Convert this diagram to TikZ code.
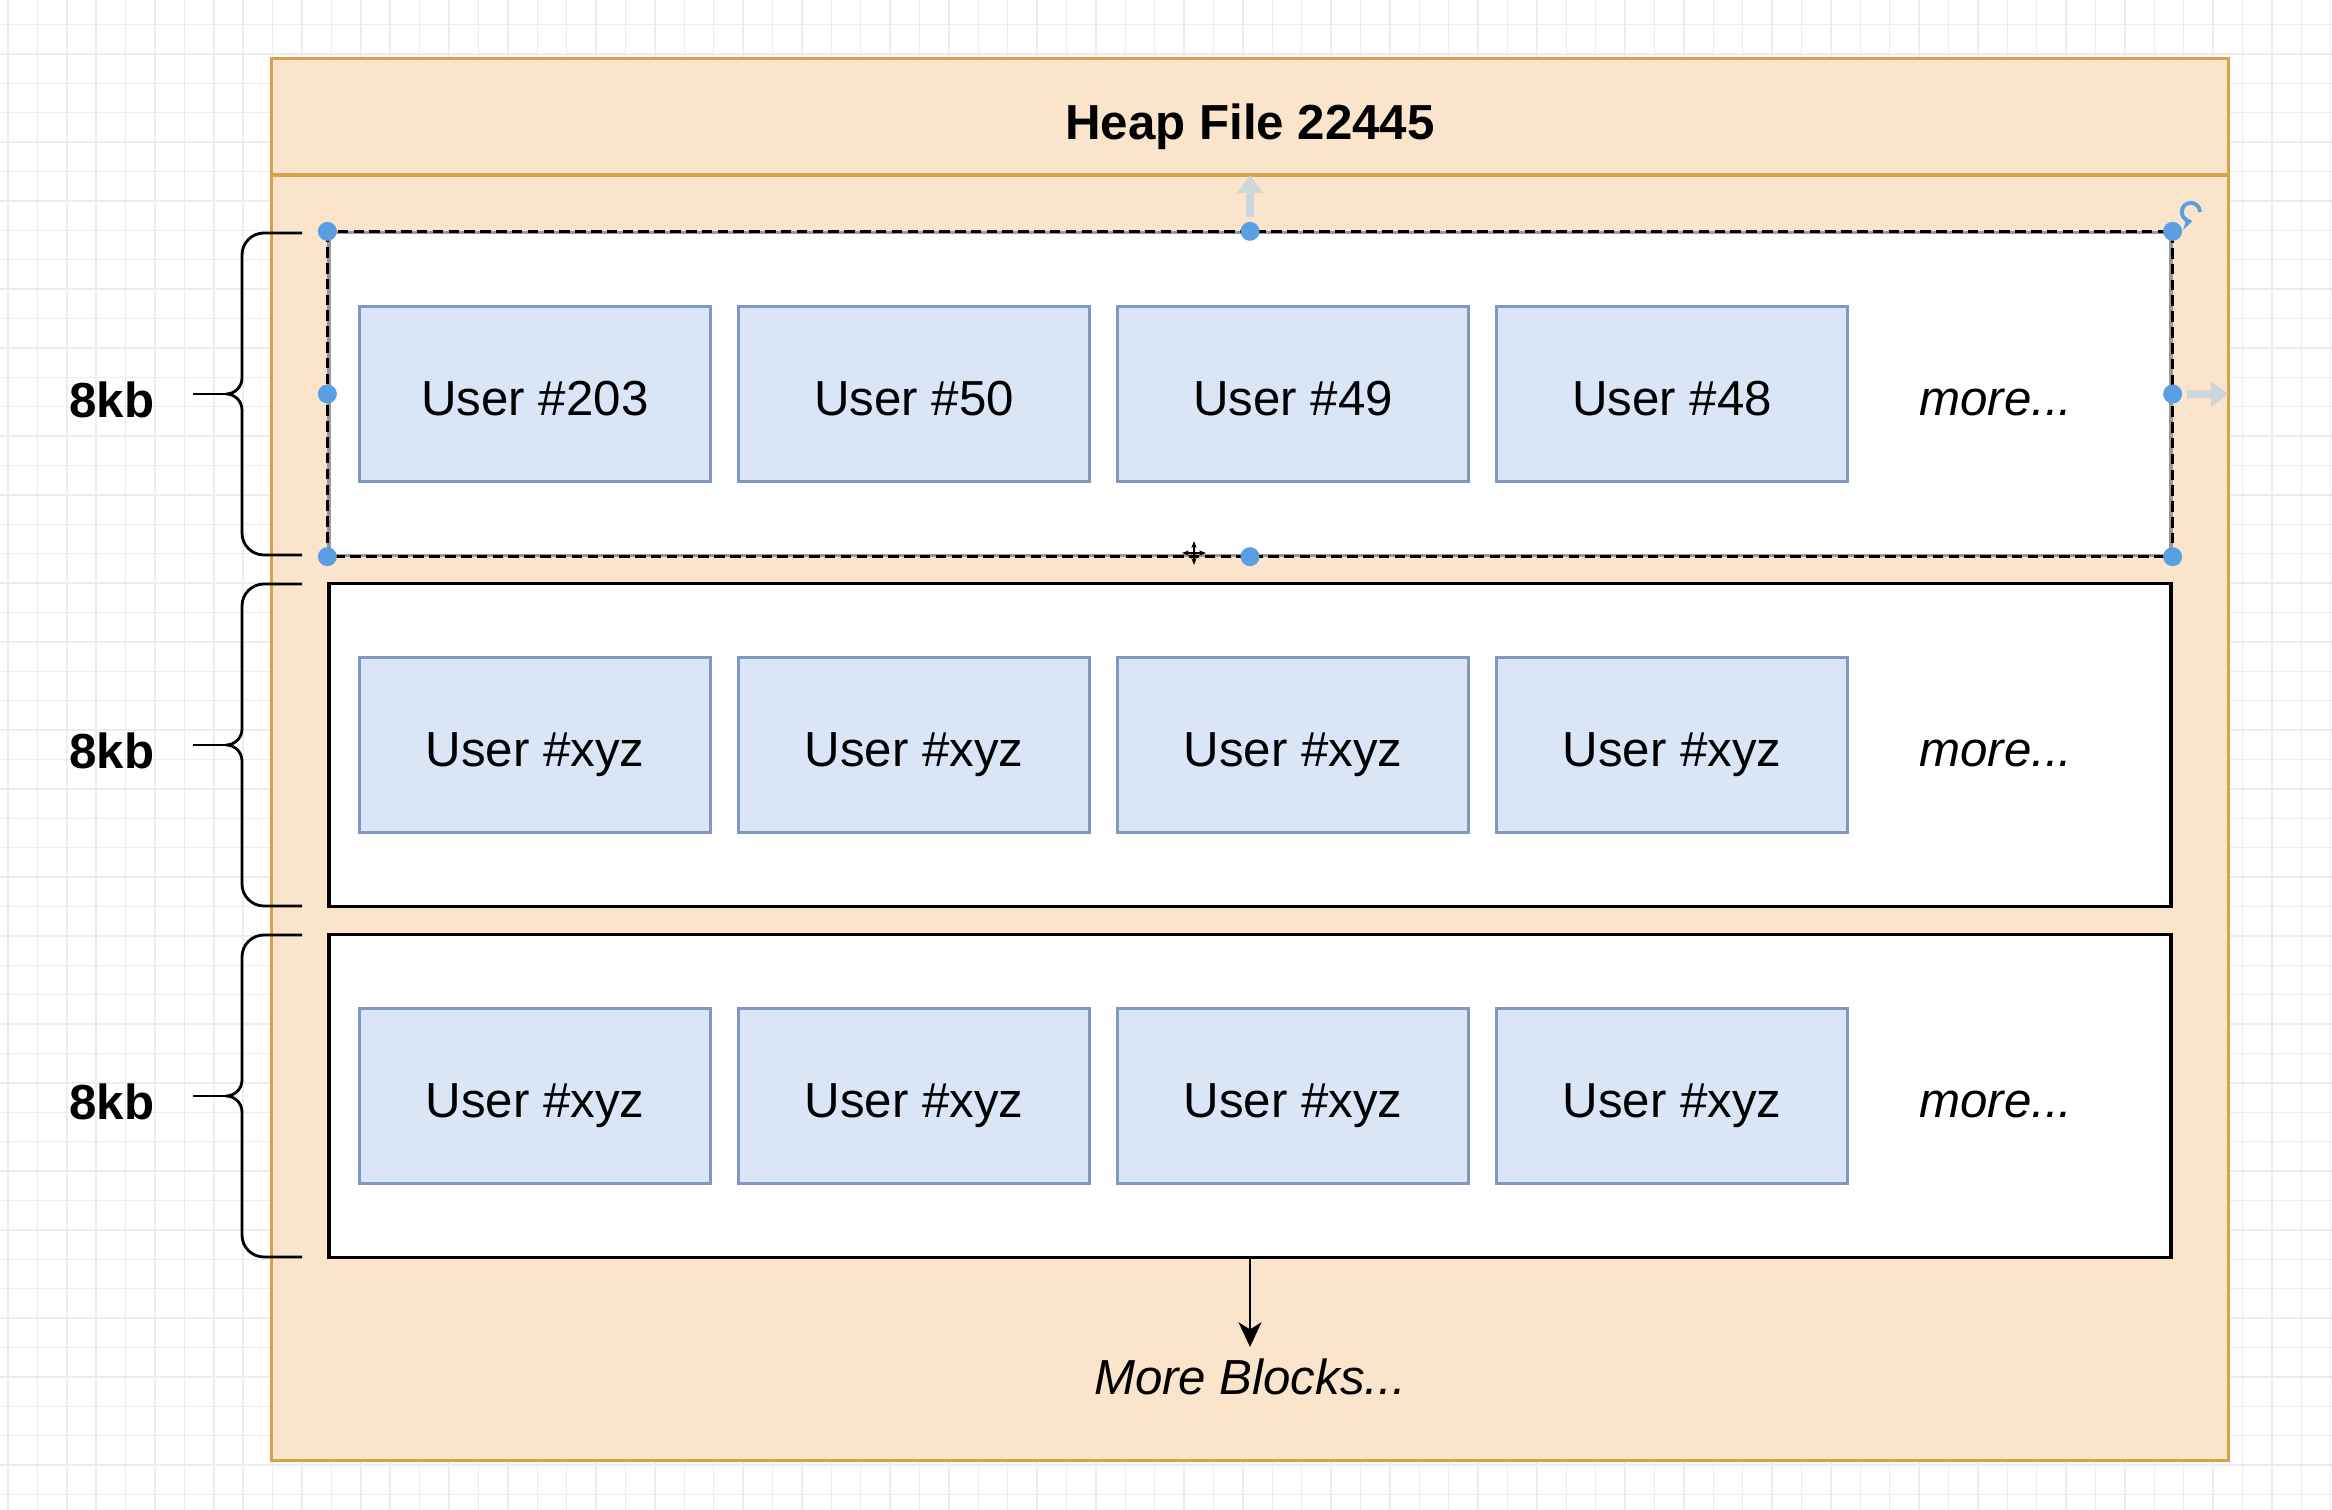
\documentclass[tikz,border=0pt]{standalone}
\usepackage{fontspec}
\setmainfont{Liberation Sans}
\usetikzlibrary{arrows.meta,calc}

\definecolor{heapfill}{HTML}{FAE5CC}
\definecolor{heapline}{HTML}{D6A24A}
\definecolor{userfill}{HTML}{DAE5F6}
\definecolor{userline}{HTML}{7F98C4}
\definecolor{handle}{HTML}{5B9FE3}
\definecolor{hint}{HTML}{CDD7DA}

\begin{document}
\begin{tikzpicture}
[
    x=0.01cm, y=-0.01cm,
    font=\fontsize{14}{17}\selectfont,
    gridline/.style={draw=black!7, line width=0.4pt},
    heap/.style={draw=heapline, fill=heapfill, line width=0.9pt, minimum width=19.56cm, minimum height=14.01cm, inner sep=0pt},
    block/.style={draw=black, fill=white, line width=0.9pt, minimum width=18.41cm, minimum height=3.22cm, inner sep=0pt},
    user/.style={draw=userline, fill=userfill, line width=0.8pt, minimum width=3.51cm, minimum height=1.75cm, inner sep=0pt, text height=12pt, text depth=0pt},
    label/.style={text height=12pt, text depth=0pt},
    bracket/.style={draw=black, line width=0.8pt},
    dot/.style={circle, fill=handle, inner sep=0pt, minimum size=0.19cm},
    hintarrow/.style={draw=hint, line width=2pt, -{Triangle[length=5pt,width=7pt]}},
    flow/.style={draw=black, line width=0.8pt, -{Stealth[length=7pt,width=6.5pt,inset=2pt]}},
]
\useasboundingbox (0,0) rectangle (2332,1510);
\fill[white] (0,0) rectangle (2332,1510);

% background grid
\foreach \gx in {8,37.4,...,2332} {\draw[gridline] (\gx,0) -- (\gx,1510);}
\foreach \gy in {24.5,53.9,...,1510} {\draw[gridline] (0,\gy) -- (2332,\gy);}

% heap file with its header
\node[heap] (heap) at (1250,759.5) {};
\coordinate (hdr) at (0,175);
\draw[heapline, line width=0.9pt] (heap.west |- hdr) -- (heap.east |- hdr);
\node[text height=10pt, text depth=0pt, font=\fontsize{14}{17}\selectfont\bfseries] (title) at (1250,122) {Heap File 22445};

% first block (selected)
\node[block, draw=black!40] (blk1) at (1250,394) {};
\draw[black, line width=0.7pt, dash pattern=on 3pt off 1.5pt] (blk1.north west) rectangle (blk1.south east);
\foreach \uid [count=\i] in {203,50,49,48}
    \node[user] (u1-\i) at ({535+379*(\i-1)},394) {User \#\uid};
\node[label, font=\fontsize{14}{17}\selectfont\itshape] (more1) at (1996,394) {more...};

% other blocks
\foreach \row/\yc in {2/745, 3/1096} {
    \node[block] (blk\row) at (1250,\yc) {};
    \foreach \i in {1,...,4}
        \node[user] (u\row-\i) at ({535+379*(\i-1)},\yc) {User \#xyz};
    \node[label, font=\fontsize{14}{17}\selectfont\itshape] (more\row) at (1996,\yc) {more...};
}

% braces and sizes
\foreach \row/\yc in {1/394, 2/745, 3/1096} {
    \draw[bracket] (302,\yc-161) -- (264,\yc-161) to[out=180,in=90] (242,\yc-139)
        -- (242,\yc-16) to[out=-90,in=0] (226,\yc) to[out=0,in=90] (242,\yc+16)
        -- (242,\yc+139) to[out=-90,in=180] (264,\yc+161) -- (302,\yc+161);
    \draw[bracket] (226,\yc) -- (193,\yc);
    \node[label, font=\fontsize{14}{17}\selectfont\bfseries] (kb\row) at (112,\yc+2) {8kb};
}

% more blocks
\node[font=\fontsize{14}{17}\selectfont\itshape, text height=10pt, text depth=0pt] (moreblk) at (1250,1377) {More Blocks...};
\draw[flow] (blk3.south) -- (moreblk.north);

% selection handles
\draw[hintarrow] ($(blk1.north)+(0,-14)$) -- ++(0,-42);
\draw[hintarrow] ($(blk1.east)+(14,0)$) -- ++(42,0);
\foreach \a [count=\k] in {north west, north, north east, west, east, south west, south, south east}
    \node[dot] (hd\k) at (blk1.\a) {};
\coordinate (rot) at (2191,212);
\draw[handle, line width=1.1pt, -{Stealth[length=3pt,width=4pt]}] ($(rot)+(9,0)$) arc[start angle=0, end angle=280, radius=2.6pt];
\coordinate (cur) at (1194,553);
\draw[black, line width=0.6pt, {Stealth[length=2pt]}-{Stealth[length=2pt]}] ($(cur)+(-12,0)$) -- ($(cur)+(12,0)$);
\draw[black, line width=0.6pt, {Stealth[length=2pt]}-{Stealth[length=2pt]}] ($(cur)+(0,-12)$) -- ($(cur)+(0,12)$);
\end{tikzpicture}
\end{document}
